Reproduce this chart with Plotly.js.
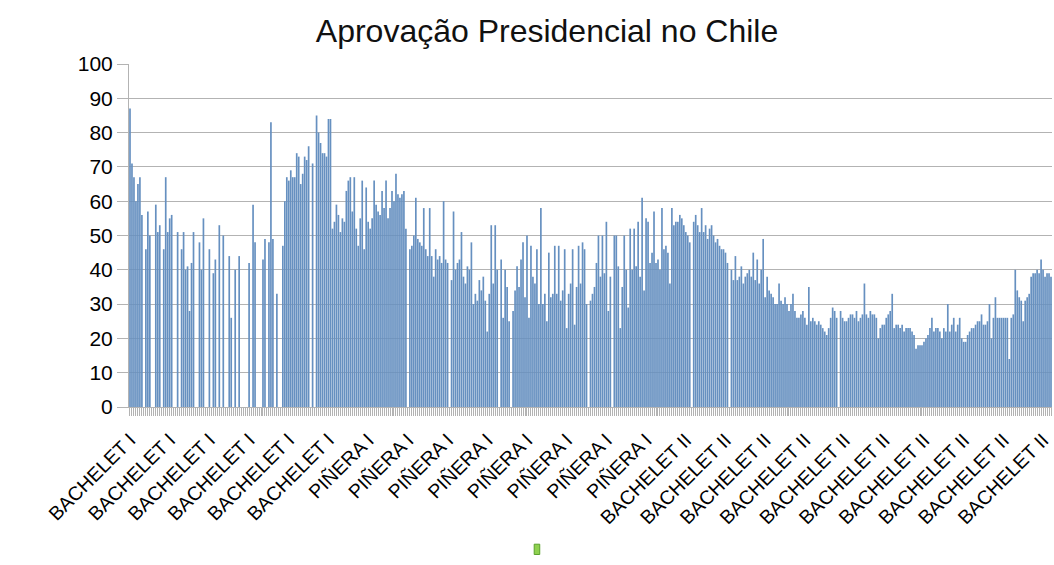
<!DOCTYPE html>
<html>
<head>
<meta charset="utf-8">
<script src="https://cdn.plot.ly/plotly-3.0.1.min.js"></script>
<style>html,body{margin:0;padding:0;background:#fff;}#chart{width:1054px;height:565px;}</style>
</head>
<body>
<div id="chart"></div>
<script>
// Approval (%) per survey, in chronological order (null = no value)
const approval = [
  87,71,67,60,65,67,56,null,46,57,
  50,null,null,59,51,53,null,46,67,51,
  55,56,null,null,51,null,46,51,40,41,
  28,42,51,null,null,48,40,55,null,null,
  46,null,39,43,null,53,null,50,null,null,
  44,26,null,40,null,44,null,null,null,null,
  42,null,59,48,null,null,null,43,49,null,
  48,83,49,null,33,null,null,47,60,67,
  66,69,67,67,74,73,65,68,73,72,
  76,null,71,null,85,80,77,74,74,73,
  84,84,
  52,54,59,56,51,55,54,63,
  66,67,57,67,52,47,55,66,46,64,
  54,52,55,66,59,57,56,63,58,66,
  55,58,63,60,68,62,61,62,63,52,
  null,46,47,50,61,49,48,47,58,46,
  44,58,44,38,46,43,44,42,60,43,
  42,null,37,57,40,42,43,51,38,36,
  41,40,48,30,33,31,37,34,38,31,
  22,33,53,36,53,40,null,43,26,40,
  35,25,null,28,34,41,35,43,48,32,
  50,26,47,38,36,46,30,58,30,33,
  25,45,32,33,47,33,47,31,34,46,
  23,33,36,46,24,35,47,36,48,46,
  30,null,31,33,35,42,50,38,50,39,
  54,28,38,null,50,50,41,23,35,50,
  40,29,52,40,52,41,54,38,61,34,
  55,54,42,45,57,42,43,40,58,46,
  47,45,36,58,53,54,54,56,55,53,
  51,50,48,null,54,56,53,51,58,51,
  53,49,52,53,50,48,49,47,46,46,
  45,42,null,40,37,44,37,38,41,36,
  38,39,40,38,45,37,43,36,40,49,
  32,38,34,33,32,30,30,36,31,30,
  32,30,28,30,33,28,26,26,27,28,
  26,24,35,25,26,25,24,25,24,23,
  22,21,23,26,29,28,26,null,28,26,
  25,25,26,27,27,26,28,25,26,27,
  36,27,26,28,27,27,26,20,23,24,
  24,26,27,28,33,23,24,24,23,24,
  22,23,23,23,22,21,17,18,18,18,
  19,20,21,23,26,22,23,23,22,20,
  23,22,30,22,24,26,22,24,26,20,
  19,19,21,22,23,23,24,25,25,27,
  24,24,25,30,20,26,32,26,26,26,
  26,26,26,14,26,27,40,34,32,31,
  25,31,32,33,38,39,39,40,39,43,
  40,38,39,39,38
];

// Axis labels shown every LABEL_STEP surveys
const LABEL_STEP = 20;
const tickLabels = [
  "BACHELET I","BACHELET I","BACHELET I","BACHELET I","BACHELET I","BACHELET I",
  "PIÑERA I","PIÑERA I","PIÑERA I","PIÑERA I","PIÑERA I","PIÑERA I","PIÑERA I","PIÑERA I",
  "BACHELET II","BACHELET II","BACHELET II","BACHELET II","BACHELET II",
  "BACHELET II","BACHELET II","BACHELET II","BACHELET II","BACHELET II"
];

const xIdx = approval.map((_, i) => i);
const tickVals = tickLabels.map((_, i) => i * LABEL_STEP);

const trace = {
  type: 'bar',
  x: xIdx,
  y: approval,
  marker: {color: '#6690c0', line: {width: 0}},
  hoverinfo: 'x+y'
};

const grey = '#b3b3b3';
const layout = {
  width: 1054,
  height: 565,
  margin: {l: 129, r: 2, t: 64, b: 158, pad: 0},
  paper_bgcolor: '#ffffff',
  plot_bgcolor: '#ffffff',
  showlegend: false,
  bargap: 0.15,
  font: {family: '"Liberation Sans", Arial, sans-serif', color: '#000'},
  title: {
    text: 'Aprovação Presidencial no Chile',
    font: {family: '"Liberation Sans", Arial, sans-serif', size: 32, color: '#111'},
    xref: 'container', x: 0.519, xanchor: 'center',
    yref: 'container', y: 0.945, yanchor: 'middle'
  },
  xaxis: {
    range: [-0.5, approval.length - 0.5],
    tickmode: 'array',
    tickvals: tickVals,
    ticktext: tickLabels,
    tickangle: -45,
    tickfont: {size: 19.5, color: '#000'},
    ticklabelstandoff: 5,
    ticks: 'outside', ticklen: 8, tickcolor: grey, tickwidth: 1,
    minor: {ticks: 'outside', ticklen: 8, tickcolor: grey, tickwidth: 1, dtick: 1, tick0: 0, showgrid: false},
    showline: true, linecolor: grey, linewidth: 1,
    showgrid: false, zeroline: false,
    automargin: false, fixedrange: true
  },
  yaxis: {
    range: [0, 100],
    dtick: 10,
    tickfont: {size: 21, color: '#000'},
    ticks: 'outside', ticklen: 11, tickcolor: grey, tickwidth: 1,
    showline: true, linecolor: grey, linewidth: 1,
    showgrid: true, gridcolor: grey, gridwidth: 1,
    zeroline: false,
    automargin: false, fixedrange: true
  },
  shapes: [
    {type: 'rect', xref: 'paper', yref: 'paper',
     x0: 0.439, x1: 0.445, y0: -0.43, y1: -0.40,
     fillcolor: '#8fd14f', line: {color: '#5aa02c', width: 1}}
  ]
};

Plotly.newPlot('chart', [trace], layout, {displayModeBar: false, staticPlot: true});
</script>
</body>
</html>
